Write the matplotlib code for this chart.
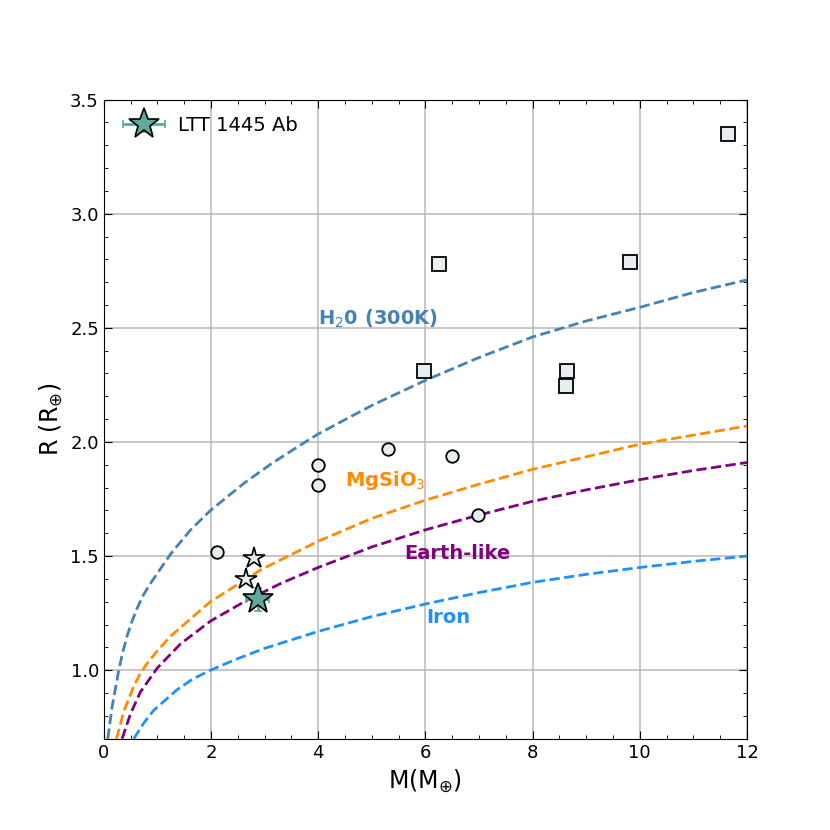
import matplotlib.pyplot as plt
from matplotlib.ticker import MultipleLocator
from matplotlib.container import ErrorbarContainer
from matplotlib.legend_handler import HandlerErrorbar

# composition curves (mass in M_earth, radius in R_earth)
h2o_m = [0.075, 0.156, 0.28, 0.35, 0.436, 0.52, 0.62, 0.74, 0.87, 1.25, 1.62, 1.99,
         2.62, 3.16, 3.66, 4.0, 5.0, 6.0, 7.0, 8.0, 9.0, 10.0, 11.0, 12.0]
h2o_r = [0.70, 0.84, 1.00, 1.075, 1.15, 1.21, 1.27, 1.33, 1.38, 1.51, 1.615, 1.70,
         1.82, 1.91, 1.985, 2.035, 2.16, 2.27, 2.37, 2.46, 2.53, 2.59, 2.655, 2.71]
mgsio3_m = [0.237, 0.374, 0.56, 0.68, 0.81, 1.0, 1.25, 1.99, 2.93, 4.0, 5.0, 6.0, 7.0,
            8.0, 9.0, 10.0, 11.0, 12.0]
mgsio3_r = [0.70, 0.82, 0.93, 0.985, 1.03, 1.085, 1.15, 1.30, 1.44, 1.565, 1.665,
            1.745, 1.815, 1.88, 1.935, 1.99, 2.03, 2.07]
earth_m = [0.343, 0.50, 0.685, 1.0, 1.43, 1.99, 2.62, 3.3, 4.0, 5.0, 6.0, 7.0, 8.0,
           9.0, 10.0, 11.0, 12.0]
earth_r = [0.70, 0.81, 0.905, 1.01, 1.115, 1.215, 1.30, 1.38, 1.45, 1.54, 1.615,
           1.68, 1.74, 1.79, 1.835, 1.875, 1.91]
iron_m = [0.56, 0.75, 0.935, 1.37, 1.65, 1.99, 2.49, 2.99, 4.0, 5.0, 6.0, 7.0, 8.0,
          9.0, 10.0, 11.0, 12.0]
iron_r = [0.70, 0.77, 0.825, 0.915, 0.96, 1.00, 1.05, 1.095, 1.17, 1.235, 1.29, 1.34,
          1.385, 1.42, 1.45, 1.477, 1.50]

# known planets
circ_m = [2.11, 4.0, 4.0, 5.31, 6.49, 6.99]
circ_r = [1.52, 1.90, 1.81, 1.97, 1.94, 1.68]
sq_m = [5.98, 6.26, 8.64, 8.62, 9.81, 11.64]
sq_r = [2.31, 2.78, 2.31, 2.245, 2.79, 3.35]
star_m = [2.80, 2.65]
star_r = [1.49, 1.40]

# LTT 1445 Ab
ltt_m, ltt_r = 2.87, 1.31
ltt_merr, ltt_rerr = 0.22, 0.05

face = "#e6eff0"
teal = "#5fa89b"

fig = plt.figure(figsize=(8.3, 8.3), dpi=100)
ax = fig.add_subplot(111)

ax.plot(h2o_m, h2o_r, "--", color="steelblue", lw=2)
ax.plot(mgsio3_m, mgsio3_r, "--", color="darkorange", lw=2)
ax.plot(earth_m, earth_r, "--", color="purple", lw=2)
ax.plot(iron_m, iron_r, "--", color="dodgerblue", lw=2)

ax.plot(circ_m, circ_r, "o", ms=9, mfc=face, mec="black", mew=1.3, ls="none")
ax.plot(sq_m, sq_r, "s", ms=10, mfc=face, mec="black", mew=1.3, ls="none")
ax.plot(star_m, star_r, "*", ms=16, mfc=face, mec="black", mew=1.2, ls="none")

ax.errorbar(ltt_m, ltt_r, xerr=ltt_merr, yerr=ltt_rerr, fmt="*", ms=23,
            color=teal, mfc=teal, mec="black", mew=1.2, ecolor=teal,
            elinewidth=2, capsize=3, capthick=2, label="LTT 1445 Ab", zorder=5)

ax.text(4.0, 2.54, r"H$_2$0 (300K)", color="steelblue", fontsize=14, fontweight="bold", va="center")
ax.text(4.5, 1.83, r"MgSiO$_3$", color="darkorange", fontsize=14, fontweight="bold", va="center")
ax.text(5.6, 1.51, "Earth-like", color="purple", fontsize=14, fontweight="bold", va="center")
ax.text(6.02, 1.23, "Iron", color="dodgerblue", fontsize=14, fontweight="bold", va="center")

ax.set_xlim(0, 12)
ax.set_ylim(0.7, 3.5)
ax.xaxis.set_major_locator(MultipleLocator(2))
ax.xaxis.set_minor_locator(MultipleLocator(0.5))
ax.yaxis.set_major_locator(MultipleLocator(0.5))
ax.yaxis.set_minor_locator(MultipleLocator(0.1))
ax.tick_params(which="both", direction="in", top=True, right=True, labelsize=13)
ax.tick_params(which="major", length=6)
ax.tick_params(which="minor", length=3)
ax.grid(True, which="major", color="#b8b8b8", lw=1.1)
ax.set_axisbelow(True)

ax.set_xlabel(r"M(M$_{\oplus}$)", fontsize=17)
ax.set_ylabel(r"R (R$_{\oplus}$)", fontsize=17)

ax.legend(loc="upper left", bbox_to_anchor=(0.02, 0.987), borderaxespad=0,
          frameon=False, fontsize=14, handletextpad=0.74,
          handler_map={ErrorbarContainer: HandlerErrorbar(xerr_size=1.08, yerr_size=0.4)})

fig.savefig("out.png", dpi=100)
